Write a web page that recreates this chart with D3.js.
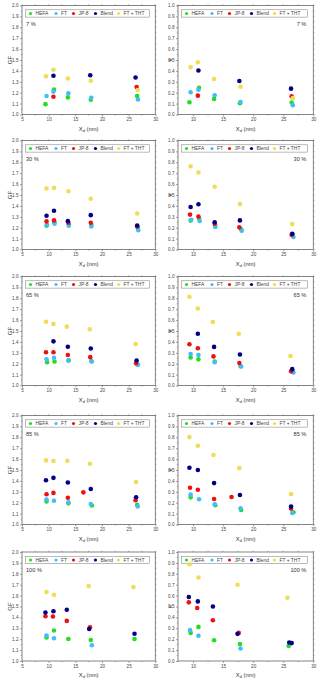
<!DOCTYPE html>
<html>
<head>
<meta charset="utf-8">
<style>
body { margin: 0; background: #fff; }
text { font-family: Arial, "Liberation Sans", sans-serif; fill: #333; }
</style>
</head>
<body>
<svg id="thevis" width="320" height="685"></svg>
<script src="https://d3js.org/d3.v7.min.js"></script>
<script>

// series names and colours
var seriesNames = ["HEFA", "FT", "JP-8", "Blend", "FT + THT"];
var colors = {"HEFA": "#22dd22", "FT": "#44bbff", "JP-8": "#ee1111", "Blend": "#000088", "FT + THT": "#eedd55"};
var rhLabels = ["7 %", "30 %", "65 %", "85 %", "100 %"];

// GF panels (left column), each point [X, GF]
var gf7 = {
  "HEFA": [[9.4, 1.095], [11.0, 1.228], [13.6, 1.157], [17.9, 1.135], [26.6, 1.17]],
  "FT": [[9.6, 1.17], [10.9, 1.21], [13.7, 1.194], [18.0, 1.154], [26.75, 1.138]],
  "JP-8": [[10.9, 1.163], [26.5, 1.252]],
  "Blend": [[10.9, 1.355], [17.8, 1.36], [26.3, 1.34]],
  "FT + THT": [[9.5, 1.35], [10.9, 1.41], [13.6, 1.33], [17.9, 1.31], [26.7, 1.225]]
};
var gf30 = {
  "HEFA": [[9.6, 1.218], [11.1, 1.25], [13.8, 1.227], [18.0, 1.227], [26.75, 1.2]],
  "FT": [[9.7, 1.227], [11.1, 1.236], [13.75, 1.218], [18.0, 1.212], [26.8, 1.176]],
  "JP-8": [[9.6, 1.258], [11.0, 1.267], [13.7, 1.245], [17.9, 1.245], [26.6, 1.21]],
  "Blend": [[9.6, 1.31], [11.0, 1.355], [13.6, 1.26], [17.9, 1.315], [26.6, 1.22]],
  "FT + THT": [[9.6, 1.56], [11.0, 1.565], [13.7, 1.535], [17.9, 1.465], [26.6, 1.33]]
};
var gf65 = {
  "HEFA": [[9.7, 1.214], [11.1, 1.22], [13.75, 1.232], [18.0, 1.223], [26.6, 1.193]],
  "FT": [[9.6, 1.24], [11.0, 1.255], [13.7, 1.228], [18.1, 1.22], [26.75, 1.19]],
  "JP-8": [[9.5, 1.305], [10.9, 1.305], [13.6, 1.28], [17.8, 1.26], [26.4, 1.205]],
  "Blend": [[10.9, 1.405], [13.6, 1.355], [17.9, 1.34], [26.5, 1.23]],
  "FT + THT": [[9.5, 1.585], [10.9, 1.565], [13.4, 1.54], [17.7, 1.515], [26.3, 1.38]]
};
var gf85 = {
  "HEFA": [[9.6, 1.212], [13.7, 1.194], [18.1, 1.175], [26.6, 1.18]],
  "FT": [[9.6, 1.23], [11.0, 1.218], [13.7, 1.203], [17.9, 1.188], [26.7, 1.166]],
  "JP-8": [[9.6, 1.277], [10.9, 1.29], [13.6, 1.246], [16.5, 1.295], [26.3, 1.222]],
  "Blend": [[9.5, 1.406], [10.9, 1.428], [13.6, 1.385], [17.9, 1.326], [26.4, 1.25]],
  "FT + THT": [[9.5, 1.588], [10.9, 1.582], [13.5, 1.585], [17.75, 1.557], [26.4, 1.39]]
};
var gf100 = {
  "HEFA": [[9.6, 1.215], [11.0, 1.28], [13.7, 1.202], [17.9, 1.193], [26.1, 1.202]],
  "FT": [[9.6, 1.233], [11.0, 1.209], [18.1, 1.144]],
  "JP-8": [[9.4, 1.41], [10.8, 1.408], [13.4, 1.368], [17.75, 1.31]],
  "Blend": [[9.4, 1.445], [10.9, 1.457], [13.4, 1.47], [17.6, 1.294], [26.1, 1.25]],
  "FT + THT": [[9.6, 1.632], [11.0, 1.607], [17.5, 1.687], [25.9, 1.678]]
};

// kappa panels (right column), each point [X, kappa]
var k7 = {
  "HEFA": [[9.4, 0.112], [11.0, 0.246], [13.5, 0.143], [17.8, 0.103], [26.4, 0.109]],
  "FT": [[9.6, 0.204], [10.9, 0.228], [13.6, 0.176], [17.9, 0.115], [26.6, 0.085]],
  "JP-8": [[10.8, 0.173], [26.4, 0.167]],
  "Blend": [[10.9, 0.404], [17.7, 0.307], [26.3, 0.237]],
  "FT + THT": [[9.6, 0.435], [10.8, 0.48], [13.5, 0.325], [17.9, 0.255], [26.6, 0.15]]
};
var k30 = {
  "HEFA": [[9.6, 0.265], [11.0, 0.285], [13.7, 0.218], [18.0, 0.185], [26.6, 0.136]],
  "FT": [[9.7, 0.272], [11.1, 0.262], [13.7, 0.206], [18.1, 0.172], [26.7, 0.115]],
  "JP-8": [[9.5, 0.32], [10.9, 0.303], [13.6, 0.236], [17.7, 0.203], [26.4, 0.133]],
  "Blend": [[9.6, 0.39], [10.9, 0.415], [13.6, 0.25], [17.8, 0.267], [26.5, 0.145]],
  "FT + THT": [[9.6, 0.764], [10.9, 0.706], [13.6, 0.576], [17.8, 0.418], [26.5, 0.233]]
};
var k65 = {
  "HEFA": [[9.6, 0.258], [10.9, 0.24], [13.6, 0.22], [17.9, 0.177], [26.6, 0.123]],
  "FT": [[9.6, 0.288], [10.9, 0.28], [13.6, 0.213], [18.0, 0.174], [26.7, 0.12]],
  "JP-8": [[9.4, 0.378], [10.8, 0.342], [13.4, 0.267], [17.7, 0.207], [26.3, 0.13]],
  "Blend": [[10.8, 0.475], [13.5, 0.354], [17.8, 0.285], [26.5, 0.15]],
  "FT + THT": [[9.4, 0.814], [10.8, 0.706], [13.3, 0.583], [17.6, 0.475], [26.2, 0.27]]
};
var k85 = {
  "HEFA": [[9.6, 0.249], [13.7, 0.176], [18.0, 0.134], [26.7, 0.112]],
  "FT": [[9.6, 0.274], [11.0, 0.231], [13.6, 0.185], [17.9, 0.149], [26.5, 0.106]],
  "JP-8": [[9.5, 0.337], [10.8, 0.319], [13.5, 0.234], [16.4, 0.252], [26.3, 0.146]],
  "Blend": [[9.4, 0.52], [10.8, 0.50], [13.5, 0.38], [17.8, 0.27], [26.3, 0.164]],
  "FT + THT": [[9.4, 0.802], [10.8, 0.723], [13.4, 0.638], [17.7, 0.517], [26.3, 0.28]]
};
var k100 = {
  "HEFA": [[9.6, 0.258], [10.9, 0.313], [13.5, 0.19], [17.8, 0.155], [25.9, 0.137]],
  "FT": [[9.5, 0.283], [10.9, 0.231], [17.9, 0.115]],
  "JP-8": [[9.3, 0.538], [10.7, 0.486], [13.3, 0.374], [17.6, 0.258]],
  "Blend": [[9.3, 0.587], [10.8, 0.547], [13.3, 0.50], [17.4, 0.249], [26.0, 0.17], [26.4, 0.164]],
  "FT + THT": [[9.4, 0.888], [10.9, 0.766], [17.4, 0.699], [25.7, 0.58]]
};

var gfPanels = [gf7, gf30, gf65, gf85, gf100];
var kPanels = [k7, k30, k65, k85, k100];

// layout
var svg = d3.select("svg");
var rowTops = [5.5, 140.5, 276.5, 415.5, 552];
var plotH = 109;
var cols = [
  {left: 22, right: 155.3, xDomain: [5, 30], yDomain: [1.0, 2.0], yStep: 0.1, yFmt: d3.format(".1f"), title: "GF", titleX: 10, pctRight: false},
  {left: 178, right: 313.3, xDomain: [7.5, 30], yDomain: [0, 1.0], yStep: 0.1, yFmt: d3.format(".1f"), title: "\u03ba", titleX: 170, pctRight: true}
];
var frameColor = "#666";

function drawPanel(col, top, data, label) {
  var g = svg.append("g");
  var bottom = top + plotH;
  var x = d3.scaleLinear().domain(col.xDomain).range([col.left, col.right]);
  var y = d3.scaleLinear().domain(col.yDomain).range([bottom, top]);

  // frame
  g.append("rect")
    .attr("x", col.left).attr("y", top)
    .attr("width", col.right - col.left).attr("height", plotH)
    .attr("fill", "none").attr("stroke", frameColor).attr("stroke-width", 0.8);

  // y ticks (major and minor) on left, mirrored right
  var yMajor = d3.range(col.yDomain[0], col.yDomain[1] + 0.001, col.yStep);
  var yMinor = d3.range(col.yDomain[0] + col.yStep / 2, col.yDomain[1], col.yStep);
  var yAxis = d3.axisLeft(y).tickValues(yMajor).tickFormat(col.yFmt).tickSize(2).tickPadding(1.5);
  var ya = g.append("g").attr("transform", "translate(" + col.left + ",0)").call(yAxis);
  ya.select(".domain").remove();
  ya.selectAll("line").attr("stroke", frameColor).attr("stroke-width", 0.6);
  ya.selectAll("text").attr("font-size", 4.6).style("fill", "#444");
  g.selectAll(".yminor").data(yMinor).enter().append("line")
    .attr("x1", col.left - 1.2).attr("x2", col.left)
    .attr("y1", d => y(d)).attr("y2", d => y(d))
    .attr("stroke", frameColor).attr("stroke-width", 0.5);
  g.selectAll(".yright").data(yMajor.concat(yMinor)).enter().append("line")
    .attr("x1", col.right).attr("x2", col.right + 1.2)
    .attr("y1", d => y(d)).attr("y2", d => y(d))
    .attr("stroke", frameColor).attr("stroke-width", 0.5);

  // x ticks
  var xMajor = d3.range(Math.ceil(col.xDomain[0] / 5) * 5, col.xDomain[1] + 0.01, 5);
  var xMinor = d3.range(Math.ceil(col.xDomain[0] / 2.5) * 2.5, col.xDomain[1], 2.5).filter(d => d % 5 != 0);
  var xAxis = d3.axisBottom(x).tickValues(xMajor).tickFormat(d3.format("d")).tickSize(2).tickPadding(1.5);
  var xa = g.append("g").attr("transform", "translate(0," + bottom + ")").call(xAxis);
  xa.select(".domain").remove();
  xa.selectAll("line").attr("stroke", frameColor).attr("stroke-width", 0.6);
  xa.selectAll("text").attr("font-size", 4.6).style("fill", "#444");
  g.selectAll(".xminor").data(xMinor).enter().append("line")
    .attr("x1", d => x(d)).attr("x2", d => x(d))
    .attr("y1", bottom).attr("y2", bottom + 1.2)
    .attr("stroke", frameColor).attr("stroke-width", 0.5);
  g.selectAll(".xtop").data(xMajor.concat(xMinor)).enter().append("line")
    .attr("x1", d => x(d)).attr("x2", d => x(d))
    .attr("y1", top - 1.2).attr("y2", top)
    .attr("stroke", frameColor).attr("stroke-width", 0.5);

  // axis titles
  g.append("text")
    .attr("transform", "translate(" + col.titleX + "," + (top + plotH / 2) + ") rotate(-90)")
    .attr("text-anchor", "middle").attr("dy", "0.35em")
    .attr("font-size", 6).text(col.title);
  var xt = g.append("text")
    .attr("x", (col.left + col.right) / 2).attr("y", bottom + 16)
    .attr("text-anchor", "middle").attr("font-size", 5.8);
  xt.append("tspan").text("X");
  xt.append("tspan").attr("font-size", 4).attr("dy", 1.3).text("d");
  xt.append("tspan").attr("dy", -1.3).text(" (nm)");

  // legend
  var lx0 = col.left + 3.5, lx1 = col.right - 6;
  g.append("rect")
    .attr("x", lx0).attr("y", top + 4.3)
    .attr("width", lx1 - lx0).attr("height", 7.3)
    .attr("fill", "#fff").attr("stroke", "#777").attr("stroke-width", 0.5);
  var legOff = [5, 30.5, 48, 70, 93];
  seriesNames.forEach(function (s, i) {
    g.append("circle")
      .attr("cx", lx0 + legOff[i]).attr("cy", top + 8)
      .attr("r", 1.6).attr("fill", colors[s]);
    g.append("text")
      .attr("x", lx0 + legOff[i] + 5).attr("y", top + 9.8)
      .attr("font-size", 4.9).style("fill", "#444").text(s);
  });

  // RH label
  g.append("text")
    .attr("x", col.pctRight ? col.right - 7 : col.left + 4)
    .attr("y", top + 20)
    .attr("text-anchor", col.pctRight ? "end" : "start")
    .attr("font-size", 5.6).text(label);

  // points
  seriesNames.forEach(function (s) {
    g.selectAll(".pt").data(data[s]).enter().append("circle")
      .attr("cx", d => x(d[0])).attr("cy", d => y(d[1]))
      .attr("r", 2.3).attr("fill", colors[s]);
  });
}

for (var i = 0; i < 5; i++) {
  drawPanel(cols[0], rowTops[i], gfPanels[i], rhLabels[i]);
  drawPanel(cols[1], rowTops[i], kPanels[i], rhLabels[i]);
}

</script>
</body>
</html>
